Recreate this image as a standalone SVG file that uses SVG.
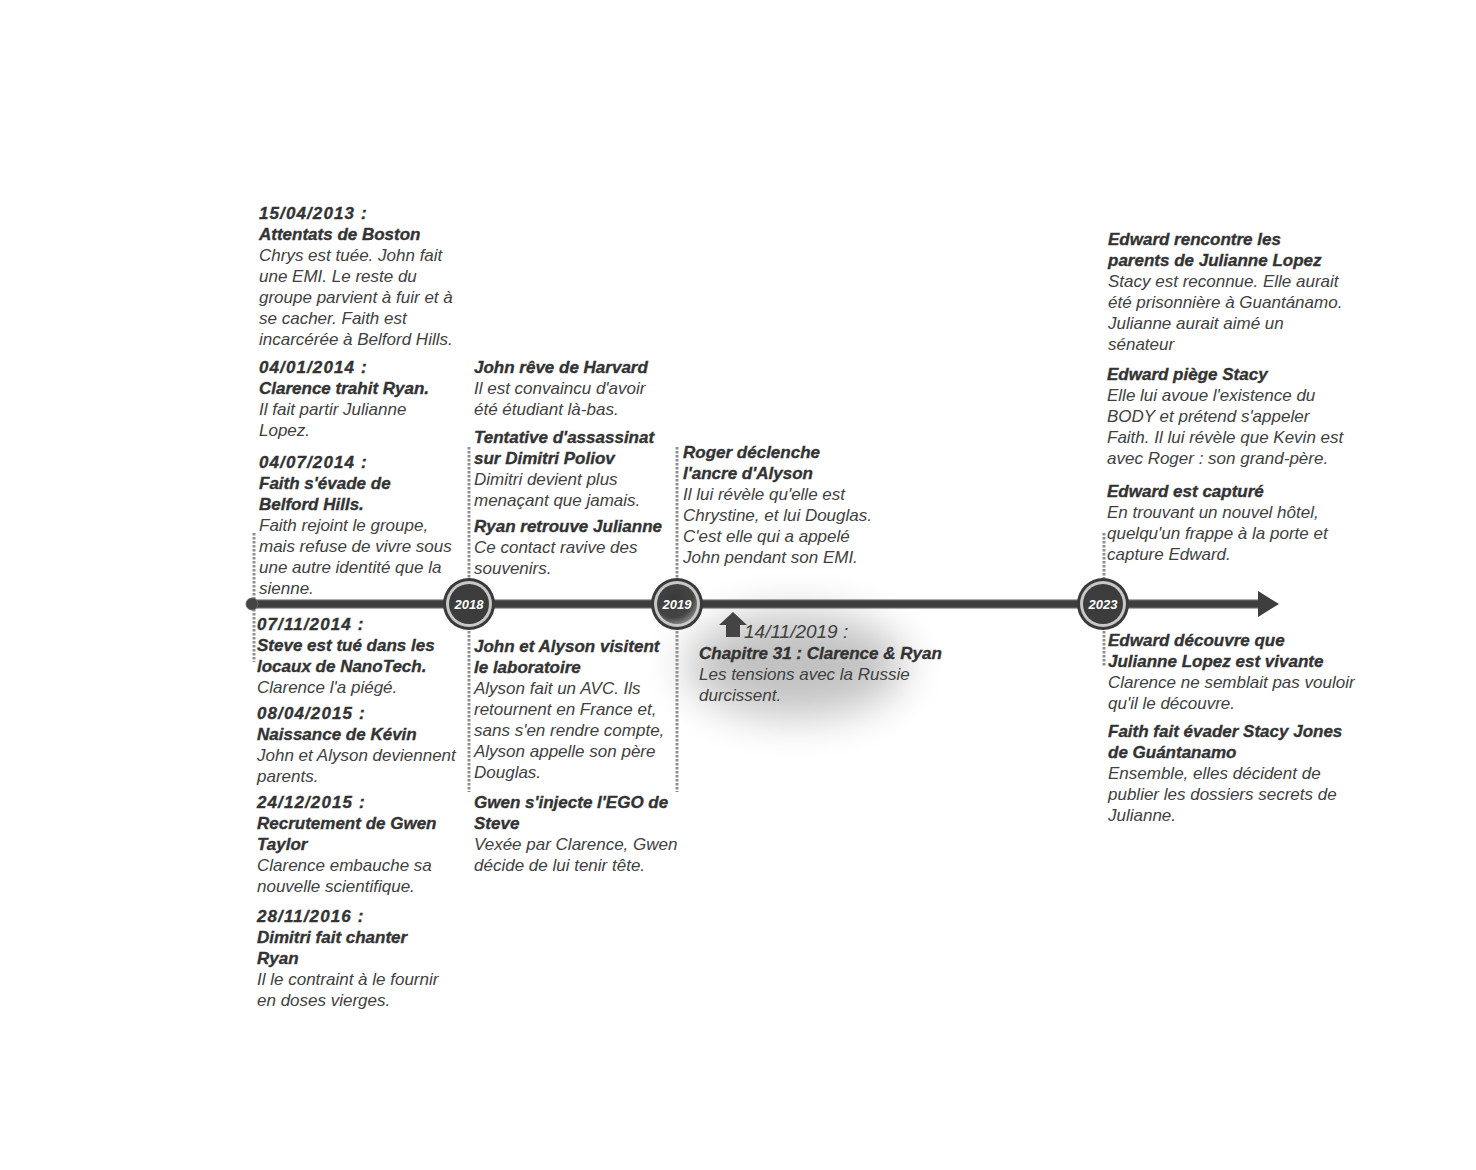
<svg xmlns="http://www.w3.org/2000/svg" width="1476" height="1170" viewBox="0 0 1476 1170">
<style>
text{font-family:"Liberation Sans",Arial,sans-serif;font-style:italic;font-size:17px;fill:#404040}
.b{font-weight:bold;fill:#333;stroke:#333;stroke-width:0.35}
.d{letter-spacing:1.1px}
.yr{font-weight:bold;fill:#fff;font-size:13px;text-anchor:middle}
.dot{stroke:#8f8f8f;stroke-width:3;stroke-dasharray:2.5 1.5;fill:none}
</style>
<defs>
<filter id="blur" x="-50%" y="-50%" width="200%" height="200%"><feGaussianBlur stdDeviation="22"/></filter>
<radialGradient id="g19" cx="40%" cy="35%" r="70%"><stop offset="0" stop-color="#3a3a3a"/><stop offset="0.7" stop-color="#444"/><stop offset="1" stop-color="#8a8a8a"/></radialGradient>
</defs>
<rect width="1476" height="1170" fill="#fff"/>
<ellipse cx="795" cy="665" rx="110" ry="52" fill="#000" opacity="0.24" filter="url(#blur)"/>
<g id="connectors">
<path class="dot" d="M254 533V662"/>
<path class="dot" d="M469 447V578M469 631V792"/>
<path class="dot" d="M677 447V578M677 631V792"/>
<path class="dot" d="M1104 533V578M1104 631V667"/>
</g>
<g id="timeline">
<line x1="252" y1="604" x2="1262" y2="604" stroke="#5a5a5a" stroke-width="9"/>
<line x1="252" y1="604" x2="1262" y2="604" stroke="#3e3e3e" stroke-width="6"/>
<polygon points="1258,591 1279,604 1258,617" fill="#3e3e3e"/>
<circle cx="252" cy="604" r="6" fill="#444" stroke="#666" stroke-width="1"/>
</g>
<g id="y2018">
<circle cx="469" cy="604" r="26" fill="#3a3a3a"/>
<circle cx="469" cy="604" r="23" fill="#c8c8c8"/>
<circle cx="469" cy="604" r="20" fill="#3c3c3c"/>
<text class="yr" x="469" y="609">2018</text>
</g>
<g id="y2019">
<circle cx="677" cy="604" r="26" fill="#3a3a3a"/>
<circle cx="677" cy="604" r="23" fill="#c8c8c8"/>
<circle cx="677" cy="604" r="20" fill="url(#g19)"/>
<text class="yr" x="677" y="609">2019</text>
</g>
<g id="y2023">
<circle cx="1103" cy="604" r="26" fill="#3a3a3a"/>
<circle cx="1103" cy="604" r="23" fill="#c8c8c8"/>
<circle cx="1103" cy="604" r="20" fill="#3c3c3c"/>
<text class="yr" x="1103" y="609">2023</text>
</g>
<g id="uparrow">
<polygon points="733,612 747,625 740,625 740,637 726,637 726,625 719,625" fill="#444"/>
</g>
<g id="e2013">
<text x="259" y="219" class="b d">15/04/2013 :</text>
<text x="259" y="240" class="b">Attentats de Boston</text>
<text x="259"><tspan x="259" y="261">Chrys est tuée. John fait</tspan><tspan x="259" y="282">une EMI. Le reste du</tspan><tspan x="259" y="303">groupe parvient à fuir et à</tspan><tspan x="259" y="324">se cacher. Faith est</tspan><tspan x="259" y="345">incarcérée à Belford Hills.</tspan></text>
</g>
<g id="e2014a">
<text x="259" y="373" class="b d">04/01/2014 :</text>
<text x="259" y="394" class="b">Clarence trahit Ryan.</text>
<text x="259"><tspan x="259" y="415">Il fait partir Julianne</tspan><tspan x="259" y="436">Lopez.</tspan></text>
</g>
<g id="e2014b">
<text x="259" y="468" class="b d">04/07/2014 :</text>
<text class="b"><tspan x="259" y="489">Faith s'évade de</tspan><tspan x="259" y="510">Belford Hills.</tspan></text>
<text><tspan x="259" y="531">Faith rejoint le groupe,</tspan><tspan x="259" y="552">mais refuse de vivre sous</tspan><tspan x="259" y="573">une autre identité que la</tspan><tspan x="259" y="594">sienne.</tspan></text>
</g>
<g id="e2014c">
<text x="257" y="630" class="b d">07/11/2014 :</text>
<text class="b"><tspan x="257" y="651">Steve est tué dans les</tspan><tspan x="257" y="672">locaux de NanoTech.</tspan></text>
<text x="257" y="693">Clarence l'a piégé.</text>
</g>
<g id="e2015a">
<text x="257" y="719" class="b d">08/04/2015 :</text>
<text x="257" y="740" class="b">Naissance de Kévin</text>
<text><tspan x="257" y="761">John et Alyson deviennent</tspan><tspan x="257" y="782">parents.</tspan></text>
</g>
<g id="e2015b">
<text x="257" y="808" class="b d">24/12/2015 :</text>
<text class="b"><tspan x="257" y="829">Recrutement de Gwen</tspan><tspan x="257" y="850">Taylor</tspan></text>
<text><tspan x="257" y="871">Clarence embauche sa</tspan><tspan x="257" y="892">nouvelle scientifique.</tspan></text>
</g>
<g id="e2016">
<text x="257" y="922" class="b d">28/11/2016 :</text>
<text class="b"><tspan x="257" y="943">Dimitri fait chanter</tspan><tspan x="257" y="964">Ryan</tspan></text>
<text><tspan x="257" y="985">Il le contraint à le fournir</tspan><tspan x="257" y="1006">en doses vierges.</tspan></text>
</g>
<g id="harvard">
<text x="474" y="373" class="b">John rêve de Harvard</text>
<text><tspan x="474" y="394">Il est convaincu d'avoir</tspan><tspan x="474" y="415">été étudiant là-bas.</tspan></text>
</g>
<g id="tentative">
<text class="b"><tspan x="474" y="443">Tentative d'assassinat</tspan><tspan x="474" y="464">sur Dimitri Poliov</tspan></text>
<text><tspan x="474" y="485">Dimitri devient plus</tspan><tspan x="474" y="506">menaçant que jamais.</tspan></text>
</g>
<g id="ryan">
<text x="474" y="532" class="b">Ryan retrouve Julianne</text>
<text><tspan x="474" y="553">Ce contact ravive des</tspan><tspan x="474" y="574">souvenirs.</tspan></text>
</g>
<g id="labo">
<text class="b"><tspan x="474" y="652">John et Alyson visitent</tspan><tspan x="474" y="673">le laboratoire</tspan></text>
<text><tspan x="474" y="694">Alyson fait un AVC. Ils</tspan><tspan x="474" y="715">retournent en France et,</tspan><tspan x="474" y="736">sans s'en rendre compte,</tspan><tspan x="474" y="757">Alyson appelle son père</tspan><tspan x="474" y="778">Douglas.</tspan></text>
</g>
<g id="gwen">
<text class="b"><tspan x="474" y="808">Gwen s'injecte l'EGO de</tspan><tspan x="474" y="829">Steve</tspan></text>
<text><tspan x="474" y="850">Vexée par Clarence, Gwen</tspan><tspan x="474" y="871">décide de lui tenir tête.</tspan></text>
</g>
<g id="roger">
<text class="b"><tspan x="683" y="458">Roger déclenche</tspan><tspan x="683" y="479">l'ancre d'Alyson</tspan></text>
<text><tspan x="683" y="500">Il lui révèle qu'elle est</tspan><tspan x="683" y="521">Chrystine, et lui Douglas.</tspan><tspan x="683" y="542">C'est elle qui a appelé</tspan><tspan x="683" y="563">John pendant son EMI.</tspan></text>
</g>
<g id="chap31">
<text x="744" y="638" style="font-size:19px">14/11/2019 :</text>
<text x="699" y="659" class="b">Chapitre 31 : Clarence &amp; Ryan</text>
<text><tspan x="699" y="680">Les tensions avec la Russie</tspan><tspan x="699" y="701">durcissent.</tspan></text>
</g>
<g id="parents">
<text class="b"><tspan x="1108" y="245">Edward rencontre les</tspan><tspan x="1108" y="266">parents de Julianne Lopez</tspan></text>
<text><tspan x="1108" y="287">Stacy est reconnue. Elle aurait</tspan><tspan x="1108" y="308">été prisonnière à Guantánamo.</tspan><tspan x="1108" y="329">Julianne aurait aimé un</tspan><tspan x="1108" y="350">sénateur</tspan></text>
</g>
<g id="piege">
<text x="1107" y="380" class="b">Edward piège Stacy</text>
<text><tspan x="1107" y="401">Elle lui avoue l'existence du</tspan><tspan x="1107" y="422">BODY et prétend s'appeler</tspan><tspan x="1107" y="443">Faith. Il lui révèle que Kevin est</tspan><tspan x="1107" y="464">avec Roger : son grand-père.</tspan></text>
</g>
<g id="capture">
<text x="1107" y="497" class="b">Edward est capturé</text>
<text><tspan x="1107" y="518">En trouvant un nouvel hôtel,</tspan><tspan x="1107" y="539">quelqu'un frappe à la porte et</tspan><tspan x="1107" y="560">capture Edward.</tspan></text>
</g>
<g id="vivante">
<text class="b"><tspan x="1108" y="646">Edward découvre que</tspan><tspan x="1108" y="667">Julianne Lopez est vivante</tspan></text>
<text><tspan x="1108" y="688">Clarence ne semblait pas vouloir</tspan><tspan x="1108" y="709">qu'il le découvre.</tspan></text>
</g>
<g id="evasion">
<text class="b"><tspan x="1108" y="737">Faith fait évader Stacy Jones</tspan><tspan x="1108" y="758">de Guántanamo</tspan></text>
<text><tspan x="1108" y="779">Ensemble, elles décident de</tspan><tspan x="1108" y="800">publier les dossiers secrets de</tspan><tspan x="1108" y="821">Julianne.</tspan></text>
</g>
</svg>
